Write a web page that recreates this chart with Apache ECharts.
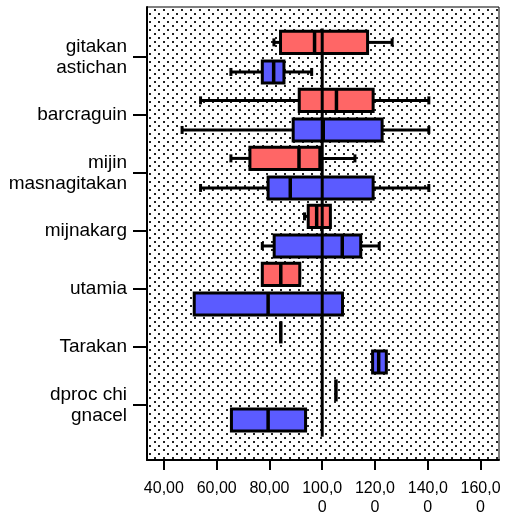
<!DOCTYPE html>
<html>
<head>
<meta charset="utf-8">
<script src="https://cdn.jsdelivr.net/npm/echarts@6/dist/echarts.min.js"></script>
<style>
  html, body { margin: 0; padding: 0; background: #fff; }
  #box_chart { width: 505px; height: 517px; }
</style>
</head>
<body>
<div id="box_chart"></div>
<script>
// 数据：每个类别 [min, q1, median, q3, max]
var categories = ['gitakan\nastichan', 'barcraguin', 'mijin\nmasnagitakan', 'mijnakarg', 'utamia', 'Tarakan', 'dproc chi\ngnacel'];

var redStats = [
    [81.7, 84.2, 97.1, 117.2, 126.5],
    [53.9, 91.3, 105.4, 119.3, 140.4],
    [65.4, 72.6, 91.2, 99.1, 112.4],
    [93.3, 94.7, 97.9, 103.1, 103.1],
    [77.3, 77.3, 84.3, 91.5, 91.5],
    [84.3, 84.3, 84.3, 84.3, 84.3],
    [105.2, 105.2, 105.2, 105.2, 105.2]
];

var blueStats = [
    [65.4, 77.3, 81.6, 85.5, 96.0],
    [46.9, 89.0, 100.4, 122.7, 140.4],
    [53.9, 79.5, 87.9, 119.3, 140.4],
    [77.3, 81.8, 107.6, 114.6, 121.6],
    [51.5, 51.5, 79.5, 107.7, 107.7],
    [119.1, 119.1, 121.4, 124.3, 124.3],
    [65.6, 65.6, 79.5, 93.7, 93.7]
];

var refValue = 100;     // 参考线
var refSpan = [-0.49, 6.55];

var xTicks = [40, 60, 80, 100, 120, 140, 160];
var xTickLabels = ['40,00', '60,00', '80,00', '100,0\n0', '120,0\n0', '140,0\n0', '160,0\n0'];
var yTicks = [0, 1, 2, 3, 4, 5, 6];

// 点状背景
function dotPattern() {
    var c = document.createElement('canvas');
    c.width = 9;
    c.height = 8;
    var ctx = c.getContext('2d');
    ctx.fillStyle = '#fff';
    ctx.fillRect(0, 0, 9, 8);
    ctx.fillStyle = '#222';
    ctx.fillRect(1, 1, 2, 2);
    ctx.fillRect(5, 5, 2, 2);
    return c;
}

function toData(stats) {
    return stats.map(function (s, i) {
        return [i, s[0], s[1], s[2], s[3], s[4]];
    });
}

function boxRenderer(offset, color) {
    var half = 0.19;
    return function (params, api) {
        var cat = api.value(0);
        var lo = api.value(1), q1 = api.value(2), med = api.value(3), q3 = api.value(4), hi = api.value(5);
        var yc = api.coord([0, cat + offset])[1];
        var yt = api.coord([0, cat + offset - half])[1];
        var yb = api.coord([0, cat + offset + half])[1];
        var xLo = api.coord([lo, 0])[0];
        var xQ1 = api.coord([q1, 0])[0];
        var xMed = api.coord([med, 0])[0];
        var xQ3 = api.coord([q3, 0])[0];
        var xHi = api.coord([hi, 0])[0];
        var children = [];
        var line = {stroke: '#000', lineWidth: 3};
        if (lo < q1) {
            children.push({type: 'line', shape: {x1: xLo, y1: yc, x2: xQ1, y2: yc}, style: line});
            children.push({type: 'line', shape: {x1: xLo, y1: yc - 4, x2: xLo, y2: yc + 4}, style: line});
        }
        if (hi > q3) {
            children.push({type: 'line', shape: {x1: xQ3, y1: yc, x2: xHi, y2: yc}, style: line});
            children.push({type: 'line', shape: {x1: xHi, y1: yc - 4, x2: xHi, y2: yc + 4}, style: line});
        }
        if (q3 > q1) {
            children.push({
                type: 'rect',
                shape: {x: xQ1, y: yt, width: xQ3 - xQ1, height: yb - yt},
                style: {fill: color, stroke: '#000', lineWidth: 3}
            });
        }
        children.push({type: 'line', shape: {x1: xMed, y1: yt, x2: xMed, y2: yb}, style: {stroke: '#000', lineWidth: 3.5}});
        return {type: 'group', children: children};
    };
}

var myChart = echarts.init(document.getElementById('box_chart'));

var option = {
    backgroundColor: '#fff',
    animation: false,
    textStyle: {fontFamily: 'Liberation Sans, Arial, sans-serif'},
    grid: {
        left: 147,
        right: 6,
        top: 7,
        bottom: 55,
        show: true,
        backgroundColor: {image: dotPattern(), repeat: 'repeat'},
        borderColor: '#000',
        borderWidth: 1
    },
    xAxis: {
        type: 'value',
        min: 33.6,
        max: 167,
        splitLine: {show: false},
        axisLine: {show: true, onZero: false, lineStyle: {color: '#000', width: 2}},
        axisTick: {show: true, length: 10, customValues: xTicks, lineStyle: {color: '#000', width: 2}},
        axisLabel: {
            customValues: xTicks,
            margin: 19,
            fontSize: 16,
            lineHeight: 19,
            color: '#000',
            formatter: function (v) {
                return xTickLabels[xTicks.indexOf(Math.round(v))];
            }
        }
    },
    yAxis: {
        type: 'value',
        inverse: true,
        min: -0.86,
        max: 6.95,
        splitLine: {show: false},
        axisLine: {show: true, onZero: false, lineStyle: {color: '#000', width: 2}},
        axisTick: {show: true, length: 14, customValues: yTicks, lineStyle: {color: '#000', width: 2}},
        axisLabel: {
            customValues: yTicks,
            margin: 20,
            fontSize: 19,
            lineHeight: 21,
            color: '#000',
            align: 'right',
            formatter: function (v) {
                return categories[Math.round(v)];
            }
        }
    },
    series: [
        {
            name: 'red',
            type: 'custom',
            renderItem: boxRenderer(-0.25, '#ff6666'),
            encode: {x: [1, 2, 3, 4, 5], y: 0},
            data: toData(redStats),
            z: 2
        },
        {
            name: 'blue',
            type: 'custom',
            renderItem: boxRenderer(0.26, '#5b5bff'),
            encode: {x: [1, 2, 3, 4, 5], y: 0},
            data: toData(blueStats),
            z: 2
        },
        {
            name: 'ref',
            type: 'line',
            symbol: 'none',
            lineStyle: {color: '#000', width: 3},
            data: [[refValue, refSpan[0]], [refValue, refSpan[1]]],
            z: 5
        }
    ]
};

myChart.setOption(option, true);
</script>
</body>
</html>
